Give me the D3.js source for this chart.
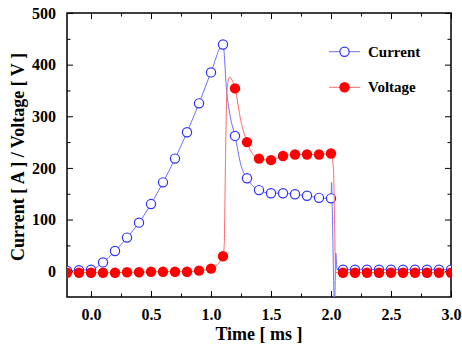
<!DOCTYPE html>
<html><head><meta charset="utf-8">
<script src="https://cdn.jsdelivr.net/npm/d3@7"></script>
<style>
html,body{margin:0;padding:0;background:#fff;}
text{font-family:"Liberation Serif","Times New Roman",serif;font-weight:bold;fill:#000;}
</style></head>
<body><svg id="c" width="462" height="349"></svg>
<script>
// Marker samples (every 0.1 ms)
const markerTime = [-0.2,-0.1,0.0,0.1,0.2,0.3,0.4,0.5,0.6,0.7,0.8,0.9,1.0,1.1,1.2,1.3,1.4,1.5,1.6,1.7,1.8,1.9,2.0,2.1,2.2,2.3,2.4,2.5,2.6,2.7,2.8,2.9,3.0];
const currentValues = [1,2,3,17,39,65,94,130,172,218,269,325,385,439,262,180,157,151,151,149,146,142,141,3,3,3,3,3,3,3,3,3,3];
const voltageValues = [-3,-3,-3,-3,-3,-2,-2,-1,-1,-1,-1,1,5,29,354,250,218,215,223,226,226,226,228,-3,-3,-3,-3,-3,-3,-3,-3,-3,-3];

// Continuous traces
const currentTraceT = [-0.2,-0.1,0.0,0.1,0.2,0.3,0.4,0.5,0.6,0.7,0.8,0.9,1.0,1.1,1.13,1.16,1.2,1.25,1.3,1.35,1.4,1.5,1.6,1.7,1.8,1.9,2.0,2.005,2.01,2.03,2.04,2.05,2.1,2.2,2.3,2.4,2.5,2.6,2.7,2.8,2.9,3.0];
const currentTraceV = [1,2,3,17,39,65,94,130,172,218,269,325,385,439,350,300,262,205,180,165,157,151,151,149,146,142,141,172,125,-70,35,3,3,3,3,3,3,3,3,3,3,3];
const voltageTraceT = [-0.2,-0.1,0.0,0.1,0.2,0.3,0.4,0.5,0.6,0.7,0.8,0.9,1.0,1.1,1.11,1.12,1.13,1.14,1.155,1.175,1.2,1.25,1.3,1.35,1.4,1.5,1.6,1.7,1.8,1.9,2.0,2.02,2.04,2.1,2.2,2.3,2.4,2.5,2.6,2.7,2.8,2.9,3.0];
const voltageTraceV = [-3,-3,-3,-3,-3,-2,-2,-1,-1,-1,-1,1,5,29,50,200,330,365,376,370,354,290,250,226,218,215,223,226,226,226,228,200,-3,-3,-3,-3,-3,-3,-3,-3,-3,-3,-3];

const xTickLabels = ["0.0","0.5","1.0","1.5","2.0","2.5","3.0"];
const yTickLabels = ["0","100","200","300","400","500"];

const svg = d3.select("#c");
const L=67, R=451, T=13, B=297;
const x = d3.scaleLinear().domain([-0.2,3.0]).range([L,R]);
const y = d3.scaleLinear().domain([-50,500]).range([B,T]);

const blueLine="#6f6fff", blueMark="#2f2fff", redLine="#ff6a6a", redMark="#ff0000";

svg.append("defs").append("clipPath").attr("id","clip")
  .append("rect").attr("x",L).attr("y",T).attr("width",R-L).attr("height",B-T);

const xMajor = xTickLabels.map(Number);
const xMinor = d3.range(0.25,3.0,0.5);
const yMajor = yTickLabels.map(Number);
const yMinor = d3.range(-50,500,100).filter(v=>v>-50);

function ax(gen, tr){ return svg.append("g").attr("transform",tr).call(gen); }
// bottom
const gb = ax(d3.axisBottom(x).tickValues(xMajor).tickFormat((d,i)=>xTickLabels[i]).tickSizeInner(-6).tickSizeOuter(0).tickPadding(12),`translate(0,${B})`);
ax(d3.axisBottom(x).tickValues(xMinor).tickFormat("").tickSizeInner(-3.5).tickSizeOuter(0),`translate(0,${B})`);
// top
ax(d3.axisTop(x).tickValues(xMajor).tickFormat("").tickSizeInner(-6).tickSizeOuter(0),`translate(0,${T})`);
ax(d3.axisTop(x).tickValues(xMinor).tickFormat("").tickSizeInner(-3.5).tickSizeOuter(0),`translate(0,${T})`);
// left
const gl = ax(d3.axisLeft(y).tickValues(yMajor).tickFormat((d,i)=>yTickLabels[i]).tickSizeInner(-6).tickSizeOuter(0).tickPadding(11),`translate(${L},0)`);
ax(d3.axisLeft(y).tickValues(yMinor).tickFormat("").tickSizeInner(-3.5).tickSizeOuter(0),`translate(${L},0)`);
// right
ax(d3.axisRight(y).tickValues(yMajor).tickFormat("").tickSizeInner(-6).tickSizeOuter(0),`translate(${R},0)`);
ax(d3.axisRight(y).tickValues(yMinor).tickFormat("").tickSizeInner(-3.5).tickSizeOuter(0),`translate(${R},0)`);

svg.selectAll(".domain").remove();
svg.selectAll(".tick line").attr("stroke","#000").attr("stroke-width",1);
svg.selectAll(".tick text").style("font-size","16px").style("font-family","'Liberation Serif',serif").style("font-weight","bold").attr("fill","#000");
gb.selectAll(".tick text").attr("dy","0.71em");

// frame
svg.append("rect").attr("x",L).attr("y",T).attr("width",R-L).attr("height",B-T)
  .attr("fill","none").attr("stroke","#000").attr("stroke-width",1.5);

const plot = svg.append("g").attr("clip-path","url(#clip)");
const line = d3.line().x(d=>x(d[0])).y(d=>y(d[1])).curve(d3.curveMonotoneX);

plot.append("path").datum(currentTraceT.map((t,i)=>[t,currentTraceV[i]]))
  .attr("d",line).attr("fill","none").attr("stroke",blueLine).attr("stroke-width",1);
plot.selectAll(".cm").data(markerTime.map((t,i)=>[t,currentValues[i]])).enter()
  .append("circle").attr("cx",d=>x(d[0])).attr("cy",d=>y(d[1])).attr("r",4.6)
  .attr("fill","#fff").attr("stroke",blueMark).attr("stroke-width",1.2);

plot.append("path").datum(voltageTraceT.map((t,i)=>[t,voltageTraceV[i]]))
  .attr("d",line).attr("fill","none").attr("stroke",redLine).attr("stroke-width",1);
plot.selectAll(".vm").data(markerTime.map((t,i)=>[t,voltageValues[i]])).enter()
  .append("circle").attr("cx",d=>x(d[0])).attr("cy",d=>y(d[1])).attr("r",5.2)
  .attr("fill",redMark);

// legend
const leg = svg.append("g");
const legItems = [
  {name:"Current", y:51.7, line:blueLine, fill:"#fff", stroke:blueMark, r:4.6},
  {name:"Voltage", y:87.3, line:redLine, fill:redMark, stroke:"none", r:5.2}
];
legItems.forEach(it=>{
  leg.append("line").attr("x1",329).attr("x2",360).attr("y1",it.y).attr("y2",it.y)
    .attr("stroke",it.line).attr("stroke-width",1);
  leg.append("circle").attr("cx",344.5).attr("cy",it.y).attr("r",it.r)
    .attr("fill",it.fill).attr("stroke",it.stroke).attr("stroke-width",1.2);
  leg.append("text").attr("x",368).attr("y",it.y+5).style("font-size","15px").text(it.name);
});

// axis titles
svg.append("text").attr("x",(L+R)/2).attr("y",340).attr("text-anchor","middle")
  .style("font-size","18px").text("Time [ ms ]");
svg.append("text").attr("transform",`translate(24,${(T+B)/2+2}) rotate(-90)`).attr("text-anchor","middle")
  .style("font-size","18px").text("Current [ A ] / Voltage [ V ]");
</script></body></html>
